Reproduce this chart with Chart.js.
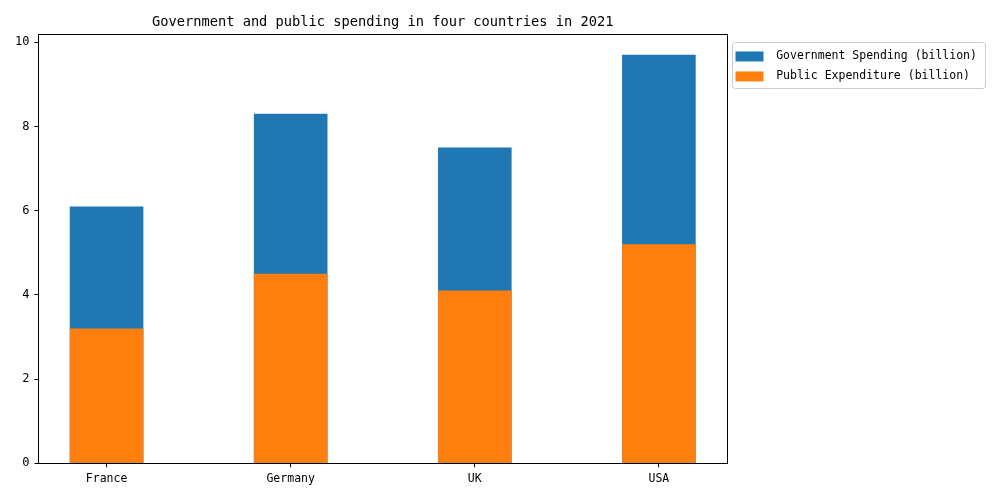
<!DOCTYPE html>
<html>
<head>
<meta charset="utf-8">
<title>Government and public spending</title>
<script src="https://cdn.jsdelivr.net/npm/chart.js@4"></script>
<style>
  html, body { margin: 0; padding: 0; background: #fff; }
  #wrap { width: 1000px; height: 500px; position: relative; }
</style>
</head>
<body>
<div id="wrap"><canvas id="chart"></canvas></div>
<script>
// Datos
const countries = ["France", "Germany", "UK", "USA"];
const govSpending = [6.1, 8.3, 7.5, 9.7];
const publicExpenditure = [3.2, 4.5, 4.1, 5.2];
const yTicks = [0, 2, 4, 6, 8, 10];

const FONT = "'DejaVu Sans Mono', 'Liberation Mono', monospace";

// Convierte una serie en puntos {x, y} para el eje lineal
function toPoints(values) {
  return values.map((v, i) => ({ x: i, y: v }));
}

// Marco del área del gráfico y recuadro de la leyenda
const framePlugin = {
  id: "frame",
  afterLayout(chart) {
    // la leyenda recorta su texto a su propia caja: se le da un poco de aire
    if (chart.legend) {
      chart.legend.right += 12;
      chart.legend.width += 12;
    }
  },
  afterDatasetsDraw(chart) {
    const a = chart.chartArea;
    const ctx = chart.ctx;
    ctx.save();
    ctx.strokeStyle = "#000";
    ctx.lineWidth = 1;
    ctx.strokeRect(Math.round(a.left) + 0.5, Math.round(a.top) + 0.5,
      Math.round(a.right - a.left), Math.round(a.bottom - a.top));
    ctx.restore();
  },
  afterDraw(chart) {
    const boxes = chart.legend && chart.legend.legendHitBoxes;
    if (!boxes || !boxes.length) return;
    const ctx = chart.ctx;
    let l = Infinity, t = Infinity, r = -Infinity, b = -Infinity;
    boxes.forEach(h => {
      l = Math.min(l, h.left); t = Math.min(t, h.top);
      r = Math.max(r, h.left + h.width); b = Math.max(b, h.top + h.height);
    });
    ctx.save();
    ctx.strokeStyle = "#cccccc";
    ctx.lineWidth = 1;
    ctx.beginPath();
    ctx.roundRect(Math.round(l - 4) + 0.5, Math.round(t - 9) + 0.5,
      Math.round(r - l + 12), Math.round(b - t + 14), 3);
    ctx.stroke();
    ctx.restore();
  }
};

new Chart(document.getElementById("chart"), {
  type: "bar",
  data: {
    datasets: [
      {
        label: " Government Spending (billion)",
        data: toPoints(govSpending),
        backgroundColor: "#1f77b4",
        barPercentage: 0.4,
        categoryPercentage: 1,
        order: 1
      },
      {
        label: " Public Expenditure (billion)",
        data: toPoints(publicExpenditure),
        backgroundColor: "#ff7f0e",
        barPercentage: 0.4,
        categoryPercentage: 1,
        order: 0
      }
    ]
  },
  options: {
    responsive: true,
    maintainAspectRatio: false,
    animation: false,
    devicePixelRatio: 1,
    layout: { padding: { left: 10, right: 34, top: 4, bottom: 9 } },
    plugins: {
      tooltip: { enabled: false },
      title: {
        display: true,
        fullSize: false,
        text: "Government and public spending in four countries in 2021",
        color: "#000",
        font: { family: FONT, size: 13.7, weight: "normal" },
        padding: { top: 10, bottom: 4 }
      },
      legend: {
        position: "right",
        align: "start",
        title: {
          display: true,
          text: " ",
          font: { size: 1 },
          padding: { top: 37, bottom: 0 }
        },
        labels: {
          color: "#000",
          font: { family: FONT, size: 11.5 },
          boxWidth: 28,
          boxHeight: 10,
          padding: 8.5,
          sort: (a, b) => a.datasetIndex - b.datasetIndex
        }
      }
    },
    scales: {
      x: {
        type: "linear",
        stacked: true,
        offset: false,
        min: -0.37,
        max: 3.37,
        afterBuildTicks: axis => { axis.ticks = countries.map((c, i) => ({ value: i })); },
        ticks: {
          autoSkip: false,
          color: "#000",
          font: { family: FONT, size: 11.5 },
          padding: 5,
          callback: v => countries[v]
        },
        grid: { offset: false, drawOnChartArea: false, drawTicks: true, tickLength: 4, tickColor: "#000" },
        border: { display: true, color: "#000" }
      },
      y: {
        stacked: false,
        min: 0,
        max: 10.185,
        afterBuildTicks: axis => { axis.ticks = yTicks.map(v => ({ value: v })); },
        ticks: {
          color: "#000",
          font: { family: FONT, size: 12 },
          padding: 5
        },
        grid: { drawOnChartArea: false, drawTicks: true, tickLength: 4, tickColor: "#000" },
        border: { display: true, color: "#000" }
      }
    }
  },
  plugins: [framePlugin]
});
</script>
</body>
</html>
